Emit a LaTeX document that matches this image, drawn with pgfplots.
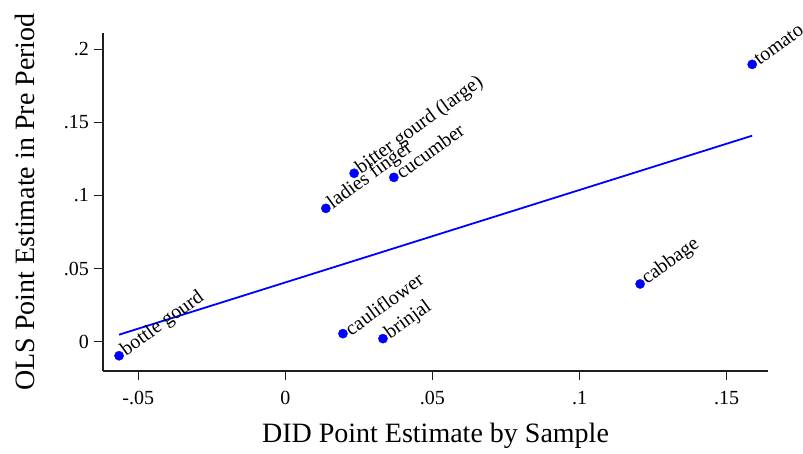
\documentclass[border=0pt]{standalone}
\usepackage{fontspec}
\setmainfont{Liberation Serif}
\usepackage{pgfplots}
\pgfplotsset{compat=1.18}
\definecolor{statablue}{RGB}{0,0,255}
\definecolor{axisgray}{RGB}{30,30,30}

\begin{document}
\begin{tikzpicture}
\path[use as bounding box] (-103bp,-83bp) rectangle (700bp,371bp);
\begin{axis}[
  at={(0,0)}, anchor=south west,
  scale only axis, width=665bp, height=338bp,
  xmin=-0.06196, xmax=0.16407, ymin=-0.02004, ymax=0.21115,
  axis x line*=bottom, axis y line*=left,
  axis line style={-, line width=1.2bp, axisgray},
  tick align=outside, major tick length=9bp,
  tick style={line width=1.2bp, axisgray},
  xtick={-0.05,0,0.05,0.1,0.15}, xticklabels={-.05,0,.05,.1,.15},
  ytick={0,0.05,0.1,0.15,0.2}, yticklabels={0,.05,.1,.15,.2},
  ticklabel style={font=\fontsize{20bp}{24bp}\selectfont},
  xticklabel style={anchor=base, yshift=-24bp},
  yticklabel style={anchor=east, inner sep=0pt, xshift=-5bp},
  xlabel={DID Point Estimate by Sample},
  ylabel={OLS Point Estimate in Pre Period},
  label style={font=\fontsize{28bp}{32bp}\selectfont},
  xlabel style={at={(axis description cs:0.5,-0.2101)}, anchor=base},
  ylabel style={at={(axis description cs:-0.1023,0.5)}, anchor=base},
  clip=false,
]
% linear fit
\addplot[statablue, line width=1.8bp, no marks] coordinates {(-0.0565,0.0048) (0.1587,0.1409)};
% point estimates by crop
\addplot[
  only marks, mark=*, mark size=4.6bp,
  mark options={statablue, fill=statablue, draw=statablue},
  point meta=explicit symbolic,
  nodes near coords,
  every node near coord/.append style={anchor=west, rotate=36, inner sep=5bp,
    font=\fontsize{20bp}{24bp}\selectfont, text=black},
] coordinates {
  (-0.0565,-0.0096) [bottle gourd]
  (0.0196,0.0055) [cauliflower]
  (0.0332,0.0021) [brinjal]
  (0.0138,0.0912) [ladies finger]
  (0.0234,0.1152) [{bitter gourd (large)}]
  (0.0369,0.1124) [cucumber]
  (0.1206,0.0395) [cabbage]
  (0.1587,0.1897) [tomato]
};
\end{axis}
\end{tikzpicture}
\end{document}
